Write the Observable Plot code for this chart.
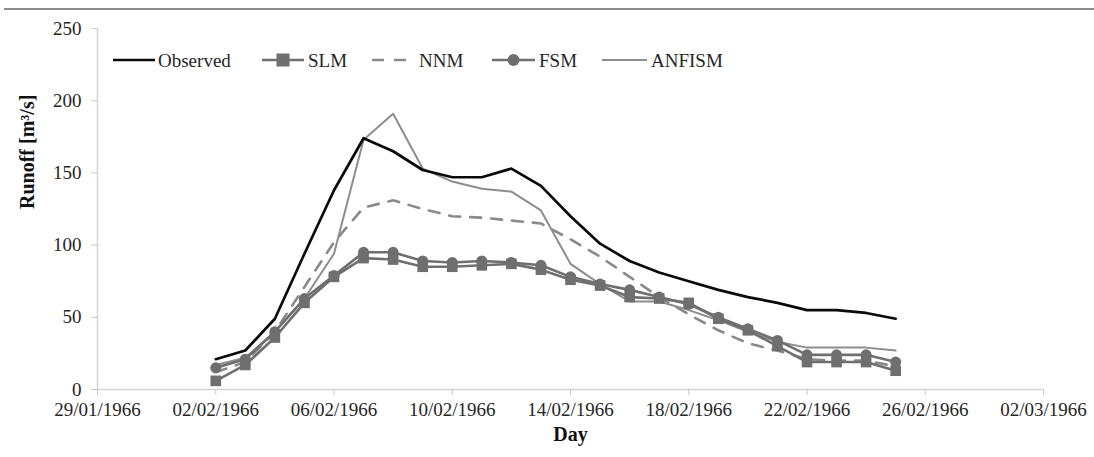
<!DOCTYPE html>
<html>
<head>
<meta charset="utf-8">
<script src="https://cdn.jsdelivr.net/npm/d3@7"></script>
<script src="https://cdn.jsdelivr.net/npm/@observablehq/plot@0.6"></script>
<style>
  body { margin: 0; background: #fff; font-family: "Liberation Serif", "Times New Roman", Times, serif; }
  #wrap { position: relative; width: 1094px; height: 457px; }
  #topline { position: absolute; left: 4px; right: 0; top: 8px; height: 0; border-top: 2px solid #8c8c8c; }
  svg text { font-family: "Liberation Serif", "Times New Roman", Times, serif; }
</style>
</head>
<body>
<div id="wrap"><div id="topline"></div></div>
<script>
const days = ["1966-02-02","1966-02-03","1966-02-04","1966-02-05","1966-02-06","1966-02-07","1966-02-08","1966-02-09","1966-02-10","1966-02-11","1966-02-12","1966-02-13","1966-02-14","1966-02-15","1966-02-16","1966-02-17","1966-02-18","1966-02-19","1966-02-20","1966-02-21","1966-02-22","1966-02-23","1966-02-24","1966-02-25"];
const observed = [21,27,49,94,138,174,165,152,147,147,153,141,120,101,89,81,75,69,64,60,55,55,53,49];
const slm      = [6,17,36,60,78,91,90,85,85,86,87,83,76,72,64,63,60,49,41,30,19,19,19,13];
const nnm      = [12,19,40,71,102,126,131,125,120,119,117,115,104,92,78,64,52,41,32,27,21,20,20,16];
const fsm      = [15,21,40,63,79,95,95,89,88,89,88,86,78,73,69,64,59,50,42,34,24,24,24,19];
const anfism   = [17,22,40,63,94,173,191,153,144,139,137,124,87,73,61,61,55,48,40,33,29,29,29,27];
const xTicks = ["1966-01-29","1966-02-02","1966-02-06","1966-02-10","1966-02-14","1966-02-18","1966-02-22","1966-02-26","1966-03-02"];
const yTicks = [0,50,100,150,200,250];
const seriesNames = ["Observed","SLM","NNM","FSM","ANFISM"];

const parse = d3.utcParse("%Y-%m-%d");
const dates = days.map(parse);
const tickDates = xTicks.map(parse);
const mk = (vals) => vals.map((v, i) => ({date: dates[i], value: v}));
const dObs = mk(observed), dSlm = mk(slm), dNnm = mk(nnm), dFsm = mk(fsm), dAnf = mk(anfism);

const styles = {
  Observed: {stroke: "#0a0a0a", strokeWidth: 2.7},
  SLM: {stroke: "#6f6f6f", strokeWidth: 2.6},
  NNM: {stroke: "#8a8a8a", strokeWidth: 2.6, strokeDasharray: "11,10"},
  FSM: {stroke: "#6f6f6f", strokeWidth: 2.6},
  ANFISM: {stroke: "#8d8d8d", strokeWidth: 2}
};
const serif = "'Liberation Serif', 'Times New Roman', Times, serif";

const chart = Plot.plot({
  width: 1094,
  height: 457,
  marginLeft: 97,
  marginRight: 51,
  marginTop: 28,
  marginBottom: 68,
  style: {fontFamily: serif, fontSize: "19px", color: "#262626", background: "transparent"},
  x: {type: "utc", domain: [tickDates[0], tickDates[tickDates.length - 1]]},
  y: {domain: [0, 250]},
  marks: [
    Plot.ruleY([0], {stroke: "#d4d4d4", strokeWidth: 1.5}),
    Plot.ruleX([tickDates[0]], {stroke: "#d4d4d4", strokeWidth: 1.5}),
    Plot.axisX({ticks: tickDates, tickFormat: d3.utcFormat("%d/%m/%Y"), tickSize: 6, tickPadding: 7, stroke: "#c8c8c8", label: null, fontSize: 19, fontFamily: serif}),
    Plot.axisY({ticks: yTicks, tickSize: 6, tickPadding: 10, stroke: "#c8c8c8", label: null, fontSize: 19, fontFamily: serif}),
    Plot.line(dAnf, {x: "date", y: "value", ...styles.ANFISM}),
    Plot.line(dNnm, {x: "date", y: "value", ...styles.NNM}),
    Plot.line(dSlm, {x: "date", y: "value", ...styles.SLM}),
    Plot.dot(dSlm, {x: "date", y: "value", symbol: "square", r: 6, fill: "#6f6f6f"}),
    Plot.line(dFsm, {x: "date", y: "value", ...styles.FSM}),
    Plot.dot(dFsm, {x: "date", y: "value", symbol: "circle", r: 5.5, fill: "#6f6f6f"}),
    Plot.line(dObs, {x: "date", y: "value", ...styles.Observed}),
    Plot.text(["Day"], {frameAnchor: "bottom", dy: 51, fontWeight: "bold", fontSize: 20, fill: "#111", fontFamily: serif}),
    Plot.text(["Runoff [m³/s]"], {frameAnchor: "left", dx: -70, rotate: -90, fontWeight: "bold", fontSize: 20, fill: "#111", fontFamily: serif})
  ]
});
document.getElementById("wrap").appendChild(chart);
chart.style.position = "absolute";
chart.style.left = "0";
chart.style.top = "0";

// legend (overlay inside the plot frame)
const legendLayout = {
  Observed: {x0: 113, x1: 155, tx: 158, marker: null},
  SLM:      {x0: 262, x1: 304, tx: 308, marker: "square"},
  NNM:      {x0: 372, x1: 407, tx: 419, marker: null},
  FSM:      {x0: 492, x1: 535, tx: 539, marker: "circle"},
  ANFISM:   {x0: 602, x1: 647, tx: 651, marker: null}
};
const ns = "http://www.w3.org/2000/svg";
const lg = document.createElementNS(ns, "svg");
lg.setAttribute("width", 1094);
lg.setAttribute("height", 457);
lg.style.position = "absolute";
lg.style.left = "0";
lg.style.top = "0";
const ly = 60;
let html = "";
for (const name of seriesNames) {
  const s = styles[name], L = legendLayout[name];
  const dash = name === "NNM" ? `stroke-dasharray="12,10"` : "";
  html += `<line x1="${L.x0}" y1="${ly}" x2="${L.x1}" y2="${ly}" stroke="${s.stroke}" stroke-width="${s.strokeWidth}" ${dash}/>`;
  const cx = (L.x0 + L.x1) / 2;
  if (L.marker === "square") html += `<rect x="${cx - 6.5}" y="${ly - 6.5}" width="13" height="13" fill="${s.stroke}"/>`;
  if (L.marker === "circle") html += `<circle cx="${cx}" cy="${ly}" r="6" fill="${s.stroke}"/>`;
  html += `<text x="${L.tx}" y="${ly}" dy="0.35em" font-size="19" fill="#262626">${name}</text>`;
}
lg.innerHTML = html;
document.getElementById("wrap").appendChild(lg);
</script>
</body>
</html>
